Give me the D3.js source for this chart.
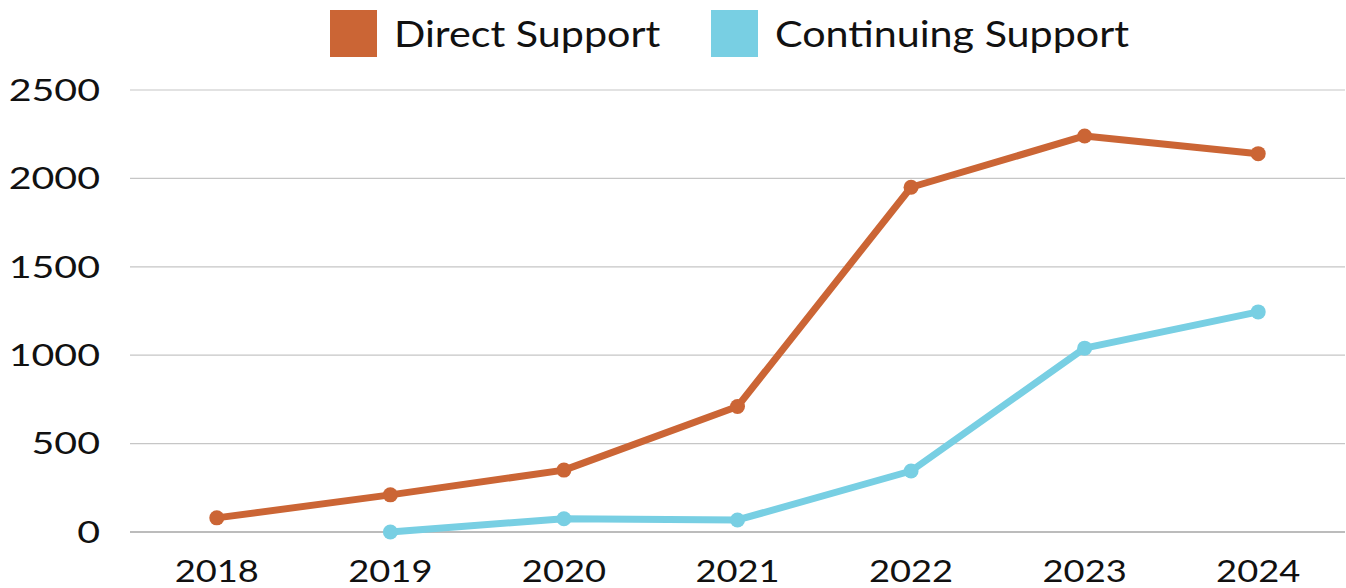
<!DOCTYPE html>
<html><head><meta charset="utf-8">
<script src="https://cdn.jsdelivr.net/npm/d3@7"></script>
<style>
html,body{margin:0;padding:0;background:#fff;}
text{font-family:"Lato","Open Sans",sans-serif;fill:#111;font-weight:400;}
</style></head>
<body>
<svg id="chart" width="1346" height="588"></svg>
<script>
const years = ["2018","2019","2020","2021","2022","2023","2024"];
const directSupport = [80, 210, 350, 710, 1950, 2240, 2140];
const continuingSupport = [null, 0, 75, 68, 345, 1040, 1245];
const yTicks = [0, 500, 1000, 1500, 2000, 2500];
const seriesNames = ["Direct Support", "Continuing Support"];
const seriesColors = ["#CB6535", "#78CFE3"];

(function () {
const svg = d3.select("#chart");
const mLeft = 130, mRight = 1345, mTop = 90, mBottom = 532;

const x = d3.scalePoint().domain(years).range([mLeft, mRight]).padding(0.5);
const y = d3.scaleLinear().domain([0, 2500]).range([mBottom, mTop]);

function stretch(sel, k) {
  sel.each(function () {
    const w = this.getComputedTextLength();
    d3.select(this).attr("textLength", w * k).attr("lengthAdjust", "spacingAndGlyphs");
  });
}

// gridlines
svg.append("g").selectAll("line").data(yTicks.filter(d => d > 0)).join("line")
  .attr("x1", mLeft).attr("x2", mRight)
  .attr("y1", d => y(d)).attr("y2", d => y(d))
  .attr("stroke", "#c6c6c6").attr("stroke-width", 1.2);

// zero axis
svg.append("line").attr("x1", mLeft).attr("x2", mRight)
  .attr("y1", y(0)).attr("y2", y(0))
  .attr("stroke", "#7a7a7a").attr("stroke-width", 1.2);

// y labels
svg.append("g").selectAll("text").data(yTicks).join("text")
  .attr("x", 100).attr("y", d => y(d)).attr("dy", "0.35em")
  .attr("text-anchor", "end").attr("font-size", 31).text(d => d)
  .call(stretch, 1.27);

// x labels
svg.append("g").selectAll("text").data(years).join("text")
  .attr("x", d => x(d)).attr("y", 582)
  .attr("text-anchor", "middle").attr("font-size", 31).text(d => d)
  .call(stretch, 1.17);

const allSeries = [directSupport, continuingSupport];
allSeries.forEach((vals, i) => {
  const pts = years.map((yr, j) => ({yr, v: vals[j]})).filter(d => d.v !== null);
  const line = d3.line().x(d => x(d.yr)).y(d => y(d.v));
  svg.append("path").datum(pts).attr("d", line)
    .attr("fill", "none").attr("stroke", seriesColors[i])
    .attr("stroke-width", 7).attr("stroke-linejoin", "round");
  svg.append("g").selectAll("circle").data(pts).join("circle")
    .attr("cx", d => x(d.yr)).attr("cy", d => y(d.v)).attr("r", 7.5)
    .attr("fill", seriesColors[i]);
});

// legend
const legendX = [330, 711];
seriesNames.forEach((name, i) => {
  svg.append("rect").attr("x", legendX[i]).attr("y", 10).attr("width", 47).attr("height", 47)
    .attr("fill", seriesColors[i]);
  svg.append("text").attr("x", legendX[i] + 64).attr("y", 34).attr("dy", "0.35em")
    .attr("font-size", 37).text(name).call(stretch, 1.115);
});
})();
</script>
</body></html>
